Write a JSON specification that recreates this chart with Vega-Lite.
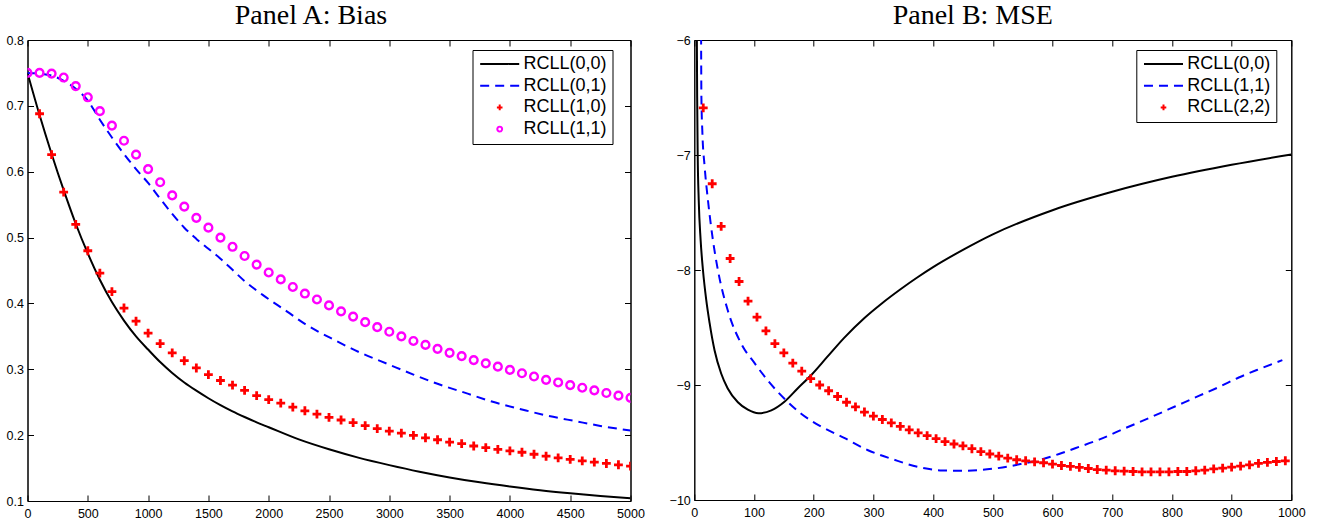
{
  "$schema": "https://vega.github.io/schema/vega-lite/v6.json",
  "padding": {"left": 5.5, "top": 1, "right": 5, "bottom": 5},
  "spacing": 22.8,
  "datasets": {
    "A": [
      {"s":"RCLL(0,0)","x":0,"y":0.750},{"s":"RCLL(0,0)","x":100,"y":0.686},{"s":"RCLL(0,0)","x":200,"y":0.627},{"s":"RCLL(0,0)","x":300,"y":0.572},{"s":"RCLL(0,0)","x":400,"y":0.521},{"s":"RCLL(0,0)","x":500,"y":0.476},{"s":"RCLL(0,0)","x":600,"y":0.436},{"s":"RCLL(0,0)","x":700,"y":0.402},{"s":"RCLL(0,0)","x":800,"y":0.374},{"s":"RCLL(0,0)","x":900,"y":0.350},{"s":"RCLL(0,0)","x":1000,"y":0.330},{"s":"RCLL(0,0)","x":1100,"y":0.311},{"s":"RCLL(0,0)","x":1200,"y":0.2945},{"s":"RCLL(0,0)","x":1300,"y":0.280},{"s":"RCLL(0,0)","x":1400,"y":0.2675},{"s":"RCLL(0,0)","x":1500,"y":0.256},{"s":"RCLL(0,0)","x":1600,"y":0.2455},{"s":"RCLL(0,0)","x":1700,"y":0.236},{"s":"RCLL(0,0)","x":1800,"y":0.2275},{"s":"RCLL(0,0)","x":1900,"y":0.2195},{"s":"RCLL(0,0)","x":2000,"y":0.212},{"s":"RCLL(0,0)","x":2250,"y":0.1935},{"s":"RCLL(0,0)","x":2500,"y":0.1785},{"s":"RCLL(0,0)","x":2750,"y":0.1655},{"s":"RCLL(0,0)","x":3000,"y":0.1545},{"s":"RCLL(0,0)","x":3250,"y":0.1445},{"s":"RCLL(0,0)","x":3500,"y":0.1358},{"s":"RCLL(0,0)","x":3750,"y":0.1283},{"s":"RCLL(0,0)","x":4000,"y":0.1219},{"s":"RCLL(0,0)","x":4250,"y":0.1163},{"s":"RCLL(0,0)","x":4500,"y":0.1117},{"s":"RCLL(0,0)","x":4750,"y":0.1077},{"s":"RCLL(0,0)","x":5000,"y":0.104},
      {"s":"RCLL(0,1)","x":0,"y":0.750},{"s":"RCLL(0,1)","x":100,"y":0.749},{"s":"RCLL(0,1)","x":200,"y":0.746},{"s":"RCLL(0,1)","x":300,"y":0.738},{"s":"RCLL(0,1)","x":400,"y":0.726},{"s":"RCLL(0,1)","x":500,"y":0.708},{"s":"RCLL(0,1)","x":600,"y":0.679},{"s":"RCLL(0,1)","x":700,"y":0.652},{"s":"RCLL(0,1)","x":800,"y":0.627},{"s":"RCLL(0,1)","x":900,"y":0.604},{"s":"RCLL(0,1)","x":1000,"y":0.583},{"s":"RCLL(0,1)","x":1100,"y":0.559},{"s":"RCLL(0,1)","x":1200,"y":0.536},{"s":"RCLL(0,1)","x":1300,"y":0.515},{"s":"RCLL(0,1)","x":1400,"y":0.498},{"s":"RCLL(0,1)","x":1500,"y":0.483},{"s":"RCLL(0,1)","x":1600,"y":0.468},{"s":"RCLL(0,1)","x":1700,"y":0.451},{"s":"RCLL(0,1)","x":1800,"y":0.434},{"s":"RCLL(0,1)","x":1950,"y":0.413},{"s":"RCLL(0,1)","x":2150,"y":0.388},{"s":"RCLL(0,1)","x":2300,"y":0.369},{"s":"RCLL(0,1)","x":2550,"y":0.344},{"s":"RCLL(0,1)","x":2750,"y":0.326},{"s":"RCLL(0,1)","x":3000,"y":0.307},{"s":"RCLL(0,1)","x":3200,"y":0.292},{"s":"RCLL(0,1)","x":3400,"y":0.278},{"s":"RCLL(0,1)","x":3650,"y":0.263},{"s":"RCLL(0,1)","x":3850,"y":0.251},{"s":"RCLL(0,1)","x":4100,"y":0.239},{"s":"RCLL(0,1)","x":4300,"y":0.230},{"s":"RCLL(0,1)","x":4550,"y":0.221},{"s":"RCLL(0,1)","x":4750,"y":0.214},{"s":"RCLL(0,1)","x":5000,"y":0.207},
      {"s":"RCLL(1,0)","x":100,"y":0.688},{"s":"RCLL(1,0)","x":200,"y":0.626},{"s":"RCLL(1,0)","x":300,"y":0.569},{"s":"RCLL(1,0)","x":400,"y":0.520},{"s":"RCLL(1,0)","x":500,"y":0.480},{"s":"RCLL(1,0)","x":600,"y":0.446},{"s":"RCLL(1,0)","x":700,"y":0.418},{"s":"RCLL(1,0)","x":800,"y":0.393},{"s":"RCLL(1,0)","x":900,"y":0.373},{"s":"RCLL(1,0)","x":1000,"y":0.355},{"s":"RCLL(1,0)","x":1100,"y":0.339},{"s":"RCLL(1,0)","x":1200,"y":0.325},{"s":"RCLL(1,0)","x":1300,"y":0.313},{"s":"RCLL(1,0)","x":1400,"y":0.302},{"s":"RCLL(1,0)","x":1500,"y":0.292},{"s":"RCLL(1,0)","x":1600,"y":0.283},{"s":"RCLL(1,0)","x":1700,"y":0.276},{"s":"RCLL(1,0)","x":1800,"y":0.268},{"s":"RCLL(1,0)","x":1900,"y":0.260},{"s":"RCLL(1,0)","x":2000,"y":0.254},{"s":"RCLL(1,0)","x":2100,"y":0.2485},{"s":"RCLL(1,0)","x":2200,"y":0.2425},{"s":"RCLL(1,0)","x":2300,"y":0.237},{"s":"RCLL(1,0)","x":2400,"y":0.232},{"s":"RCLL(1,0)","x":2500,"y":0.227},{"s":"RCLL(1,0)","x":2600,"y":0.223},{"s":"RCLL(1,0)","x":2700,"y":0.219},{"s":"RCLL(1,0)","x":2800,"y":0.2145},{"s":"RCLL(1,0)","x":2900,"y":0.210},{"s":"RCLL(1,0)","x":3000,"y":0.206},{"s":"RCLL(1,0)","x":3100,"y":0.203},{"s":"RCLL(1,0)","x":3200,"y":0.1996},{"s":"RCLL(1,0)","x":3300,"y":0.196},{"s":"RCLL(1,0)","x":3400,"y":0.193},{"s":"RCLL(1,0)","x":3500,"y":0.1895},{"s":"RCLL(1,0)","x":3600,"y":0.187},{"s":"RCLL(1,0)","x":3700,"y":0.1835},{"s":"RCLL(1,0)","x":3800,"y":0.181},{"s":"RCLL(1,0)","x":3900,"y":0.1785},{"s":"RCLL(1,0)","x":4000,"y":0.176},{"s":"RCLL(1,0)","x":4100,"y":0.174},{"s":"RCLL(1,0)","x":4200,"y":0.171},{"s":"RCLL(1,0)","x":4300,"y":0.168},{"s":"RCLL(1,0)","x":4400,"y":0.1655},{"s":"RCLL(1,0)","x":4500,"y":0.1633},{"s":"RCLL(1,0)","x":4600,"y":0.161},{"s":"RCLL(1,0)","x":4700,"y":0.159},{"s":"RCLL(1,0)","x":4800,"y":0.157},{"s":"RCLL(1,0)","x":4900,"y":0.155},{"s":"RCLL(1,0)","x":5000,"y":0.153},
      {"s":"RCLL(1,1)","x":0,"y":0.750},{"s":"RCLL(1,1)","x":100,"y":0.750},{"s":"RCLL(1,1)","x":200,"y":0.749},{"s":"RCLL(1,1)","x":300,"y":0.743},{"s":"RCLL(1,1)","x":400,"y":0.730},{"s":"RCLL(1,1)","x":500,"y":0.713},{"s":"RCLL(1,1)","x":600,"y":0.692},{"s":"RCLL(1,1)","x":700,"y":0.670},{"s":"RCLL(1,1)","x":800,"y":0.647},{"s":"RCLL(1,1)","x":900,"y":0.626},{"s":"RCLL(1,1)","x":1000,"y":0.604},{"s":"RCLL(1,1)","x":1100,"y":0.584},{"s":"RCLL(1,1)","x":1200,"y":0.564},{"s":"RCLL(1,1)","x":1300,"y":0.547},{"s":"RCLL(1,1)","x":1400,"y":0.530},{"s":"RCLL(1,1)","x":1500,"y":0.515},{"s":"RCLL(1,1)","x":1600,"y":0.500},{"s":"RCLL(1,1)","x":1700,"y":0.486},{"s":"RCLL(1,1)","x":1800,"y":0.472},{"s":"RCLL(1,1)","x":1900,"y":0.459},{"s":"RCLL(1,1)","x":2000,"y":0.447},{"s":"RCLL(1,1)","x":2100,"y":0.4365},{"s":"RCLL(1,1)","x":2200,"y":0.425},{"s":"RCLL(1,1)","x":2300,"y":0.415},{"s":"RCLL(1,1)","x":2400,"y":0.406},{"s":"RCLL(1,1)","x":2500,"y":0.397},{"s":"RCLL(1,1)","x":2600,"y":0.388},{"s":"RCLL(1,1)","x":2700,"y":0.380},{"s":"RCLL(1,1)","x":2800,"y":0.3715},{"s":"RCLL(1,1)","x":2900,"y":0.364},{"s":"RCLL(1,1)","x":3000,"y":0.357},{"s":"RCLL(1,1)","x":3100,"y":0.350},{"s":"RCLL(1,1)","x":3200,"y":0.343},{"s":"RCLL(1,1)","x":3300,"y":0.337},{"s":"RCLL(1,1)","x":3400,"y":0.331},{"s":"RCLL(1,1)","x":3500,"y":0.325},{"s":"RCLL(1,1)","x":3600,"y":0.320},{"s":"RCLL(1,1)","x":3700,"y":0.314},{"s":"RCLL(1,1)","x":3800,"y":0.309},{"s":"RCLL(1,1)","x":3900,"y":0.304},{"s":"RCLL(1,1)","x":4000,"y":0.299},{"s":"RCLL(1,1)","x":4100,"y":0.294},{"s":"RCLL(1,1)","x":4200,"y":0.289},{"s":"RCLL(1,1)","x":4300,"y":0.284},{"s":"RCLL(1,1)","x":4400,"y":0.280},{"s":"RCLL(1,1)","x":4500,"y":0.276},{"s":"RCLL(1,1)","x":4600,"y":0.272},{"s":"RCLL(1,1)","x":4700,"y":0.268},{"s":"RCLL(1,1)","x":4800,"y":0.264},{"s":"RCLL(1,1)","x":4900,"y":0.260},{"s":"RCLL(1,1)","x":5000,"y":0.2566}
    ],
    "B": [
      {"s":"RCLL(0,0)","x":4.0,"y":-5.7},{"s":"RCLL(0,0)","x":4.3,"y":-6.0},{"s":"RCLL(0,0)","x":4.8,"y":-6.5},{"s":"RCLL(0,0)","x":5.7,"y":-7.0},{"s":"RCLL(0,0)","x":7.4,"y":-7.39},{"s":"RCLL(0,0)","x":10.6,"y":-7.74},{"s":"RCLL(0,0)","x":14.5,"y":-8.0},{"s":"RCLL(0,0)","x":20,"y":-8.26},{"s":"RCLL(0,0)","x":25.6,"y":-8.46},{"s":"RCLL(0,0)","x":34,"y":-8.70},{"s":"RCLL(0,0)","x":45,"y":-8.90},{"s":"RCLL(0,0)","x":56,"y":-9.03},{"s":"RCLL(0,0)","x":73,"y":-9.15},{"s":"RCLL(0,0)","x":89.7,"y":-9.215},{"s":"RCLL(0,0)","x":107.5,"y":-9.246},{"s":"RCLL(0,0)","x":129,"y":-9.22},{"s":"RCLL(0,0)","x":151,"y":-9.145},{"s":"RCLL(0,0)","x":173,"y":-9.03},{"s":"RCLL(0,0)","x":196,"y":-8.913},{"s":"RCLL(0,0)","x":223,"y":-8.754},{"s":"RCLL(0,0)","x":251,"y":-8.59},{"s":"RCLL(0,0)","x":285,"y":-8.417},{"s":"RCLL(0,0)","x":313,"y":-8.295},{"s":"RCLL(0,0)","x":346,"y":-8.165},{"s":"RCLL(0,0)","x":374,"y":-8.063},{"s":"RCLL(0,0)","x":400,"y":-7.975},{"s":"RCLL(0,0)","x":450,"y":-7.825},{"s":"RCLL(0,0)","x":500,"y":-7.69},{"s":"RCLL(0,0)","x":600,"y":-7.48},{"s":"RCLL(0,0)","x":700,"y":-7.32},{"s":"RCLL(0,0)","x":800,"y":-7.19},{"s":"RCLL(0,0)","x":900,"y":-7.085},{"s":"RCLL(0,0)","x":1000,"y":-6.995},
      {"s":"RCLL(1,1)","x":11.2,"y":-5.7},{"s":"RCLL(1,1)","x":11.4,"y":-6.0},{"s":"RCLL(1,1)","x":11.9,"y":-6.5},{"s":"RCLL(1,1)","x":13.5,"y":-6.8},{"s":"RCLL(1,1)","x":17.3,"y":-7.10},{"s":"RCLL(1,1)","x":22.8,"y":-7.39},{"s":"RCLL(1,1)","x":31.2,"y":-7.74},{"s":"RCLL(1,1)","x":39.5,"y":-8.0},{"s":"RCLL(1,1)","x":56,"y":-8.35},{"s":"RCLL(1,1)","x":78.5,"y":-8.64},{"s":"RCLL(1,1)","x":101,"y":-8.81},{"s":"RCLL(1,1)","x":123,"y":-8.96},{"s":"RCLL(1,1)","x":151,"y":-9.12},{"s":"RCLL(1,1)","x":179,"y":-9.25},{"s":"RCLL(1,1)","x":212,"y":-9.36},{"s":"RCLL(1,1)","x":251,"y":-9.46},{"s":"RCLL(1,1)","x":290,"y":-9.565},{"s":"RCLL(1,1)","x":335,"y":-9.65},{"s":"RCLL(1,1)","x":376,"y":-9.714},{"s":"RCLL(1,1)","x":415,"y":-9.743},{"s":"RCLL(1,1)","x":454,"y":-9.746},{"s":"RCLL(1,1)","x":499,"y":-9.729},{"s":"RCLL(1,1)","x":527,"y":-9.708},{"s":"RCLL(1,1)","x":549,"y":-9.685},{"s":"RCLL(1,1)","x":583,"y":-9.645},{"s":"RCLL(1,1)","x":611,"y":-9.600},{"s":"RCLL(1,1)","x":638,"y":-9.550},{"s":"RCLL(1,1)","x":678,"y":-9.475},{"s":"RCLL(1,1)","x":722,"y":-9.375},{"s":"RCLL(1,1)","x":767,"y":-9.275},{"s":"RCLL(1,1)","x":806,"y":-9.185},{"s":"RCLL(1,1)","x":845,"y":-9.095},{"s":"RCLL(1,1)","x":879,"y":-9.017},{"s":"RCLL(1,1)","x":912,"y":-8.935},{"s":"RCLL(1,1)","x":946,"y":-8.862},{"s":"RCLL(1,1)","x":985,"y":-8.784},
      {"s":"RCLL(2,2)","x":15,"y":-6.59},{"s":"RCLL(2,2)","x":30,"y":-7.25},{"s":"RCLL(2,2)","x":45,"y":-7.62},{"s":"RCLL(2,2)","x":60,"y":-7.90},{"s":"RCLL(2,2)","x":75,"y":-8.10},{"s":"RCLL(2,2)","x":90,"y":-8.27},{"s":"RCLL(2,2)","x":105,"y":-8.41},{"s":"RCLL(2,2)","x":120,"y":-8.53},{"s":"RCLL(2,2)","x":135,"y":-8.64},{"s":"RCLL(2,2)","x":150,"y":-8.72},{"s":"RCLL(2,2)","x":165,"y":-8.81},{"s":"RCLL(2,2)","x":180,"y":-8.88},{"s":"RCLL(2,2)","x":195,"y":-8.945},{"s":"RCLL(2,2)","x":210,"y":-9.00},{"s":"RCLL(2,2)","x":225,"y":-9.05},{"s":"RCLL(2,2)","x":240,"y":-9.10},{"s":"RCLL(2,2)","x":255,"y":-9.15},{"s":"RCLL(2,2)","x":270,"y":-9.19},{"s":"RCLL(2,2)","x":285,"y":-9.235},{"s":"RCLL(2,2)","x":300,"y":-9.27},{"s":"RCLL(2,2)","x":315,"y":-9.30},{"s":"RCLL(2,2)","x":330,"y":-9.33},{"s":"RCLL(2,2)","x":345,"y":-9.36},{"s":"RCLL(2,2)","x":360,"y":-9.39},{"s":"RCLL(2,2)","x":375,"y":-9.417},{"s":"RCLL(2,2)","x":390,"y":-9.44},{"s":"RCLL(2,2)","x":405,"y":-9.466},{"s":"RCLL(2,2)","x":420,"y":-9.493},{"s":"RCLL(2,2)","x":435,"y":-9.513},{"s":"RCLL(2,2)","x":450,"y":-9.53},{"s":"RCLL(2,2)","x":465,"y":-9.554},{"s":"RCLL(2,2)","x":480,"y":-9.58},{"s":"RCLL(2,2)","x":495,"y":-9.60},{"s":"RCLL(2,2)","x":510,"y":-9.618},{"s":"RCLL(2,2)","x":525,"y":-9.636},{"s":"RCLL(2,2)","x":540,"y":-9.65},{"s":"RCLL(2,2)","x":555,"y":-9.659},{"s":"RCLL(2,2)","x":570,"y":-9.668},{"s":"RCLL(2,2)","x":585,"y":-9.676},{"s":"RCLL(2,2)","x":600,"y":-9.688},{"s":"RCLL(2,2)","x":615,"y":-9.70},{"s":"RCLL(2,2)","x":630,"y":-9.708},{"s":"RCLL(2,2)","x":645,"y":-9.717},{"s":"RCLL(2,2)","x":660,"y":-9.726},{"s":"RCLL(2,2)","x":675,"y":-9.735},{"s":"RCLL(2,2)","x":690,"y":-9.74},{"s":"RCLL(2,2)","x":705,"y":-9.746},{"s":"RCLL(2,2)","x":720,"y":-9.749},{"s":"RCLL(2,2)","x":735,"y":-9.752},{"s":"RCLL(2,2)","x":750,"y":-9.755},{"s":"RCLL(2,2)","x":765,"y":-9.755},{"s":"RCLL(2,2)","x":780,"y":-9.755},{"s":"RCLL(2,2)","x":795,"y":-9.755},{"s":"RCLL(2,2)","x":810,"y":-9.752},{"s":"RCLL(2,2)","x":825,"y":-9.752},{"s":"RCLL(2,2)","x":840,"y":-9.746},{"s":"RCLL(2,2)","x":855,"y":-9.74},{"s":"RCLL(2,2)","x":870,"y":-9.73},{"s":"RCLL(2,2)","x":885,"y":-9.723},{"s":"RCLL(2,2)","x":900,"y":-9.714},{"s":"RCLL(2,2)","x":915,"y":-9.705},{"s":"RCLL(2,2)","x":930,"y":-9.694},{"s":"RCLL(2,2)","x":945,"y":-9.682},{"s":"RCLL(2,2)","x":960,"y":-9.673},{"s":"RCLL(2,2)","x":975,"y":-9.665},{"s":"RCLL(2,2)","x":990,"y":-9.659}
    ]
  },
  "hconcat": [
    {
      "title": {"text": "Panel A: Bias", "offset": 4, "dx": -18},
      "width": 603,
      "height": 461,
      "data": {"name": "A"},
      "resolve": {"axis": {"x": "independent", "y": "independent"}},
      "layer": [
        {
          "transform": [{"filter": "datum.s === 'RCLL(0,0)'"}],
          "mark": {"type": "line", "color": "#000000", "strokeWidth": 2, "interpolate": "monotone", "clip": true},
          "encoding": {
            "x": {"field": "x", "type": "quantitative", "scale": {"domain": [0, 5000], "nice": false, "zero": false},
                  "axis": {"orient": "bottom", "title": null, "values": [0,500,1000,1500,2000,2500,3000,3500,4000,4500,5000], "format": "d", "tickSize": -6, "labelPadding": 12, "labelFlush": false, "grid": false}},
            "y": {"field": "y", "type": "quantitative", "scale": {"domain": [0.1, 0.8], "nice": false, "zero": false},
                  "axis": {"orient": "left", "title": null, "values": [0.1,0.2,0.3,0.4,0.5,0.6,0.7,0.8], "format": ".1f", "tickSize": -6, "labelPadding": 10, "labelFlush": false, "grid": false}}
          }
        },
        {
          "transform": [{"filter": "datum.s === 'RCLL(0,1)'"}],
          "mark": {"type": "line", "color": "#0000ff", "strokeWidth": 2, "strokeDash": [9, 6], "interpolate": "monotone", "clip": true},
          "encoding": {
            "x": {"field": "x", "type": "quantitative", "axis": null},
            "y": {"field": "y", "type": "quantitative", "axis": null}
          }
        },
        {
          "transform": [{"filter": "datum.s === 'RCLL(1,0)'"}],
          "mark": {"type": "point", "shape": "M-1,0L1,0M0,-1L0,1", "size": 78, "filled": false, "stroke": "#ff0000", "strokeWidth": 2.8, "opacity": 1, "clip": true},
          "encoding": {
            "x": {"field": "x", "type": "quantitative", "axis": null},
            "y": {"field": "y", "type": "quantitative", "axis": null}
          }
        },
        {
          "transform": [{"filter": "datum.s === 'RCLL(1,1)'"}],
          "mark": {"type": "point", "shape": "circle", "size": 60, "filled": false, "stroke": "#ff00ff", "strokeWidth": 2.4, "opacity": 1, "clip": true},
          "encoding": {
            "x": {"field": "x", "type": "quantitative", "axis": null},
            "y": {"field": "y", "type": "quantitative", "axis": null}
          }
        },
        {
          "transform": [{"filter": "false"}],
          "mark": {"type": "point", "filled": false, "size": 256, "strokeWidth": 2, "opacity": 1},
          "encoding": {
            "x": {"field": "x", "type": "quantitative", "axis": {"orient": "top", "title": null, "labels": false, "values": [0,500,1000,1500,2000,2500,3000,3500,4000,4500,5000], "tickSize": -6, "grid": false}},
            "y": {"field": "y", "type": "quantitative", "axis": {"orient": "right", "title": null, "labels": false, "values": [0.1,0.2,0.3,0.4,0.5,0.6,0.7,0.8], "tickSize": -6, "grid": false}},
            "color": {"field": "s", "type": "nominal",
              "scale": {"domain": ["RCLL(0,0)","RCLL(0,1)","RCLL(1,0)","RCLL(1,1)"], "range": ["#000000","#0000ff","#ff0000","#ff00ff"]},
              "legend": {"title": null, "orient": "none", "legendX": 445, "legendY": 10, "direction": "vertical", "padding": 5, "rowPadding": 3.7, "symbolSize": 256, "symbolStrokeWidth": 2, "symbolOpacity": 1, "labelOffset": 28, "labelFont": "Liberation Sans", "labelFontSize": 18, "labelColor": "#000000", "labelLimit": 300, "strokeColor": "#000000", "fillColor": "#ffffff"}},
            "shape": {"field": "s", "type": "nominal",
              "scale": {"domain": ["RCLL(0,0)","RCLL(0,1)","RCLL(1,0)","RCLL(1,1)"], "range": ["M-0.79,0L4.09,0","M-0.79,0L4.09,0","M1.3,0L2.0,0M1.65,-0.35L1.65,0.35","M1.95,0A0.3,0.3,0,1,1,1.35,0A0.3,0.3,0,1,1,1.95,0Z"]},
              "legend": {"title": null, "orient": "none", "legendX": 445, "legendY": 10, "direction": "vertical", "padding": 5, "rowPadding": 3.7, "symbolSize": 256, "symbolStrokeWidth": 2, "symbolOpacity": 1, "labelOffset": 28, "labelFont": "Liberation Sans", "labelFontSize": 18, "labelColor": "#000000", "labelLimit": 300, "strokeColor": "#000000", "fillColor": "#ffffff"}},
            "strokeDash": {"field": "s", "type": "nominal",
              "scale": {"domain": ["RCLL(0,0)","RCLL(0,1)","RCLL(1,0)","RCLL(1,1)"], "range": [[1,0],[9,6],[1,0],[1,0]]},
              "legend": {"title": null, "orient": "none", "legendX": 445, "legendY": 10, "direction": "vertical", "padding": 5, "rowPadding": 3.7, "symbolSize": 256, "symbolStrokeWidth": 2, "symbolOpacity": 1, "labelOffset": 28, "labelFont": "Liberation Sans", "labelFontSize": 18, "labelColor": "#000000", "labelLimit": 300, "strokeColor": "#000000", "fillColor": "#ffffff"}}
          }
        }
      ]
    },
    {
      "title": {"text": "Panel B: MSE", "offset": 4, "dx": -20},
      "width": 597,
      "height": 460,
      "data": {"name": "B"},
      "resolve": {"axis": {"x": "independent", "y": "independent"}},
      "layer": [
        {
          "transform": [{"filter": "datum.s === 'RCLL(0,0)'"}],
          "mark": {"type": "line", "color": "#000000", "strokeWidth": 2, "interpolate": "monotone", "clip": true},
          "encoding": {
            "x": {"field": "x", "type": "quantitative", "scale": {"domain": [0, 1000], "nice": false, "zero": false},
                  "axis": {"orient": "bottom", "title": null, "values": [0,100,200,300,400,500,600,700,800,900,1000], "format": "d", "tickSize": -6, "labelPadding": 12, "labelFlush": false, "grid": false}},
            "y": {"field": "y", "type": "quantitative", "scale": {"domain": [-10, -6], "nice": false, "zero": false},
                  "axis": {"orient": "left", "title": null, "values": [-10,-9,-8,-7,-6], "format": "d", "tickSize": -6, "labelPadding": 10, "labelFlush": false, "grid": false}}
          }
        },
        {
          "transform": [{"filter": "datum.s === 'RCLL(1,1)'"}],
          "mark": {"type": "line", "color": "#0000ff", "strokeWidth": 2, "strokeDash": [9, 6], "interpolate": "monotone", "clip": true},
          "encoding": {
            "x": {"field": "x", "type": "quantitative", "axis": null},
            "y": {"field": "y", "type": "quantitative", "axis": null}
          }
        },
        {
          "transform": [{"filter": "datum.s === 'RCLL(2,2)'"}],
          "mark": {"type": "point", "shape": "M-1,0L1,0M0,-1L0,1", "size": 78, "filled": false, "stroke": "#ff0000", "strokeWidth": 2.8, "opacity": 1, "clip": true},
          "encoding": {
            "x": {"field": "x", "type": "quantitative", "axis": null},
            "y": {"field": "y", "type": "quantitative", "axis": null}
          }
        },
        {
          "transform": [{"filter": "false"}],
          "mark": {"type": "point", "filled": false, "size": 256, "strokeWidth": 2, "opacity": 1},
          "encoding": {
            "x": {"field": "x", "type": "quantitative", "axis": {"orient": "top", "title": null, "labels": false, "values": [0,100,200,300,400,500,600,700,800,900,1000], "tickSize": -6, "grid": false}},
            "y": {"field": "y", "type": "quantitative", "axis": {"orient": "right", "title": null, "labels": false, "values": [-10,-9,-8,-7,-6], "tickSize": -6, "grid": false}},
            "color": {"field": "s", "type": "nominal",
              "scale": {"domain": ["RCLL(0,0)","RCLL(1,1)","RCLL(2,2)"], "range": ["#000000","#0000ff","#ff0000"]},
              "legend": {"title": null, "orient": "none", "legendX": 442, "legendY": 10, "direction": "vertical", "padding": 5, "rowPadding": 3.7, "symbolSize": 256, "symbolStrokeWidth": 2, "symbolOpacity": 1, "labelOffset": 28, "labelFont": "Liberation Sans", "labelFontSize": 18, "labelColor": "#000000", "labelLimit": 300, "strokeColor": "#000000", "fillColor": "#ffffff"}},
            "shape": {"field": "s", "type": "nominal",
              "scale": {"domain": ["RCLL(0,0)","RCLL(1,1)","RCLL(2,2)"], "range": ["M-0.79,0L4.09,0","M-0.79,0L4.09,0","M1.3,0L2.0,0M1.65,-0.35L1.65,0.35"]},
              "legend": {"title": null, "orient": "none", "legendX": 442, "legendY": 10, "direction": "vertical", "padding": 5, "rowPadding": 3.7, "symbolSize": 256, "symbolStrokeWidth": 2, "symbolOpacity": 1, "labelOffset": 28, "labelFont": "Liberation Sans", "labelFontSize": 18, "labelColor": "#000000", "labelLimit": 300, "strokeColor": "#000000", "fillColor": "#ffffff"}},
            "strokeDash": {"field": "s", "type": "nominal",
              "scale": {"domain": ["RCLL(0,0)","RCLL(1,1)","RCLL(2,2)"], "range": [[1,0],[9,6],[1,0]]},
              "legend": {"title": null, "orient": "none", "legendX": 442, "legendY": 10, "direction": "vertical", "padding": 5, "rowPadding": 3.7, "symbolSize": 256, "symbolStrokeWidth": 2, "symbolOpacity": 1, "labelOffset": 28, "labelFont": "Liberation Sans", "labelFontSize": 18, "labelColor": "#000000", "labelLimit": 300, "strokeColor": "#000000", "fillColor": "#ffffff"}}
          }
        }
      ]
    }
  ],
  "resolve": {
    "scale": {"color": "independent", "shape": "independent", "strokeDash": "independent"},
    "legend": {"color": "independent", "shape": "independent", "strokeDash": "independent"}
  },
  "config": {
    "background": "#ffffff",
    "view": {"stroke": "#000000", "strokeWidth": 1},
    "axis": {"domainColor": "#000000", "domainWidth": 1, "tickColor": "#000000", "tickWidth": 1, "labelColor": "#000000", "labelFont": "Liberation Sans", "labelFontSize": 12.5, "grid": false},
    "title": {"font": "Liberation Serif", "fontSize": 28, "fontWeight": "normal", "color": "#000000", "anchor": "middle", "frame": "group", "baseline": "alphabetic"}
  }
}
